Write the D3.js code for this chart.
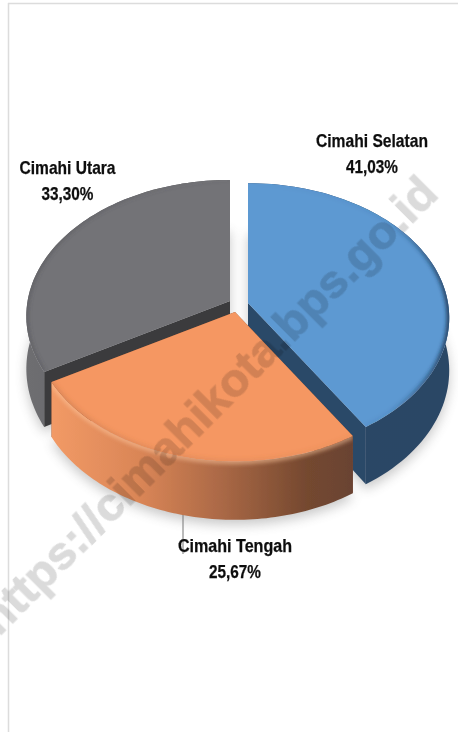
<!DOCTYPE html>
<html><head><meta charset="utf-8">
<script src="https://cdn.jsdelivr.net/npm/d3@7"></script>
<style>html,body{margin:0;padding:0;background:#fff;overflow:hidden}svg{display:block}</style>
</head><body><svg id="c" width="458" height="732"></svg>
<script>
const categories = ["Cimahi Selatan", "Cimahi Tengah", "Cimahi Utara"];
const values = [41.03, 25.67, 33.30];
const topColors = ["#5d99d2", "#f59762", "#737377"];
const cutColors = ["#2a4868", "#7a4a30", "#3a3a3c"];
const apexX = [248, 235, 230];
const apexY = [303, 312, 301];
const radius = [1, 1, 1.012];
const labelX = [372, 235, 67.5];
const labelY = [147, 552, 174];
const labelW = [112, 114, 96];
const watermark = "https://cimahikota.bps.go.id";

const svg = d3.select("#c");
const defs = svg.append("defs");
const A = 200, B = 133, P = 0.11, D = 52;
const project = (th, r, i, drop) => {
  const x = Math.sin(th) * r * radius[i], z = Math.cos(th) * r * radius[i], w = 1 + P * z;
  return [apexX[i] + A * x / w, apexY[i] - B * z / w + drop / w];
};
const pie = d3.pie().sort(null)(values);
const line = d3.line().curve(d3.curveLinear);
const arcAngles = d => d3.range(0, 81).map(k => d.startAngle + (d.endAngle - d.startAngle) * k / 80);

const blurF = (id, s) => defs.append("filter").attr("id",id).attr("x","-20%").attr("y","-20%").attr("width","140%").attr("height","140%")
  .append("feGaussianBlur").attr("stdDeviation",s);
blurF("sh",6); blurF("soft",2); blurF("fine",0.45);

function grad(id, stops){
  const g = defs.append("linearGradient").attr("id",id).attr("gradientUnits","objectBoundingBox").attr("x1",0).attr("x2",1).attr("y1",0).attr("y2",0);
  stops.forEach(s=>{
    const st = g.append("stop").attr("offset",s[0]).attr("stop-color",s[1]);
    if (s[2]!==undefined) st.attr("stop-opacity",s[2]);
  });
}
grad("w0",[[0,"#2c4766"],[1,"#2b4665"]]);
grad("w1",[[0,"#f29a66"],[0.3,"#d98556"],[0.55,"#ad6a47"],[0.85,"#74482f"],[1,"#6a4332"]]);
grad("w2",[[0,"#6e6e71"],[1,"#58585b"]]);
grad("r0",[[0,"#1d3a5c",0],[0.7,"#1d3a5c",0.1],[1,"#12263f",1]]);
grad("r1",[[0,"#9a5a38",0.3],[1,"#9a5a38",0.08]]);
grad("r2",[[0,"#45454a",0.45],[1,"#45454a",0.03]]);

const topPath = (d,i) => line([project(0,0,i,0), ...arcAngles(d).map(a=>project(a,1,i,0))]) + "Z";
const wallPath = (d,i) => {
  const as = arcAngles(d);
  return line([...as.map(a=>project(a,1,i,0)), ...as.slice().reverse().map(a=>project(a,1,i,D))]) + "Z";
};
const cutPath = (a,i) => line([project(0,0,i,0), project(a,1,i,0), project(a,1,i,D), project(0,0,i,D)]) + "Z";
const rimPath = (d,i) => line(arcAngles(d).map(a=>project(a,1,i,0)));

// frame
svg.append("line").attr("x1",8.5).attr("x2",8.5).attr("y1",3).attr("y2",732).attr("stroke","#dcdcdc").attr("stroke-width",1.5);
svg.append("line").attr("x1",8).attr("x2",458).attr("y1",3.5).attr("y2",3.5).attr("stroke","#dcdcdc").attr("stroke-width",1.5);

// ground shadow
svg.append("g").attr("filter","url(#sh)").attr("opacity",0.32).attr("transform","translate(0,5)")
  .selectAll("path").data(pie).join("path")
  .attr("d",(d,i)=>line([project(0,0,i,D), ...arcAngles(d).map(a=>project(a,1,i,D))])+"Z").attr("fill","#555");

// leader
svg.append("line").attr("x1",183).attr("x2",183).attr("y1",515).attr("y2",554).attr("stroke","#777").attr("stroke-width",1);

// painter order: grey, blue, orange
const chart = svg.append("g").attr("filter","url(#fine)");
[2,0,1].forEach(i=>{
  const d = pie[i];
  const g = chart.append("g");
  defs.append("clipPath").attr("id","ct"+i).append("path").attr("d",topPath(d,i));
  defs.append("clipPath").attr("id","cw"+i).append("path").attr("d",wallPath(d,i));
  [d.startAngle,d.endAngle].forEach(a=>g.append("path").attr("d",cutPath(a,i)).attr("fill",cutColors[i]));
  g.append("path").attr("d",wallPath(d,i)).attr("fill",`url(#w${i})`);
  if(i===1){
    g.append("g").attr("clip-path","url(#cw1)").append("path").attr("d",rimPath(d,i)).attr("fill","none").attr("stroke","#ffc9a0").attr("stroke-width",5)
      .attr("filter","url(#soft)").attr("opacity",0.6);
  }
  g.append("path").attr("d",topPath(d,i)).attr("fill",topColors[i]);
  g.append("g").attr("clip-path",`url(#ct${i})`).append("path").attr("d",rimPath(d,i)).attr("fill","none")
    .attr("stroke",`url(#r${i})`).attr("stroke-width",4).attr("filter","url(#soft)");
});

// watermark
svg.append("text").text(watermark)
  .attr("transform","translate(-1,637) rotate(-45)")
  .attr("font-family","'Liberation Sans',Arial,sans-serif").attr("font-weight","bold").attr("font-size",47)
  .attr("stroke","#000").attr("stroke-width",1)
  .attr("fill","#000").attr("opacity",0.14).attr("filter","url(#fine)");

// labels
const fmt = v => v.toFixed(2).replace(".",",") + "%";
const labels = svg.append("g").attr("filter","url(#fine)");
categories.forEach((c,i)=>{
  const put = (s,y,w) => labels.append("text").attr("text-anchor","middle").attr("x",labelX[i]).attr("y",y).text(s)
    .attr("font-family","'Liberation Sans',Arial,sans-serif").attr("font-weight","bold").attr("fill","#111").attr("font-size",18.5)
    .attr("stroke","#111").attr("stroke-width",0.25)
    .attr("textLength",w).attr("lengthAdjust","spacingAndGlyphs");
  put(c,labelY[i],labelW[i]);
  put(fmt(values[i]),labelY[i]+25.5,52);
});
</script></body></html>
